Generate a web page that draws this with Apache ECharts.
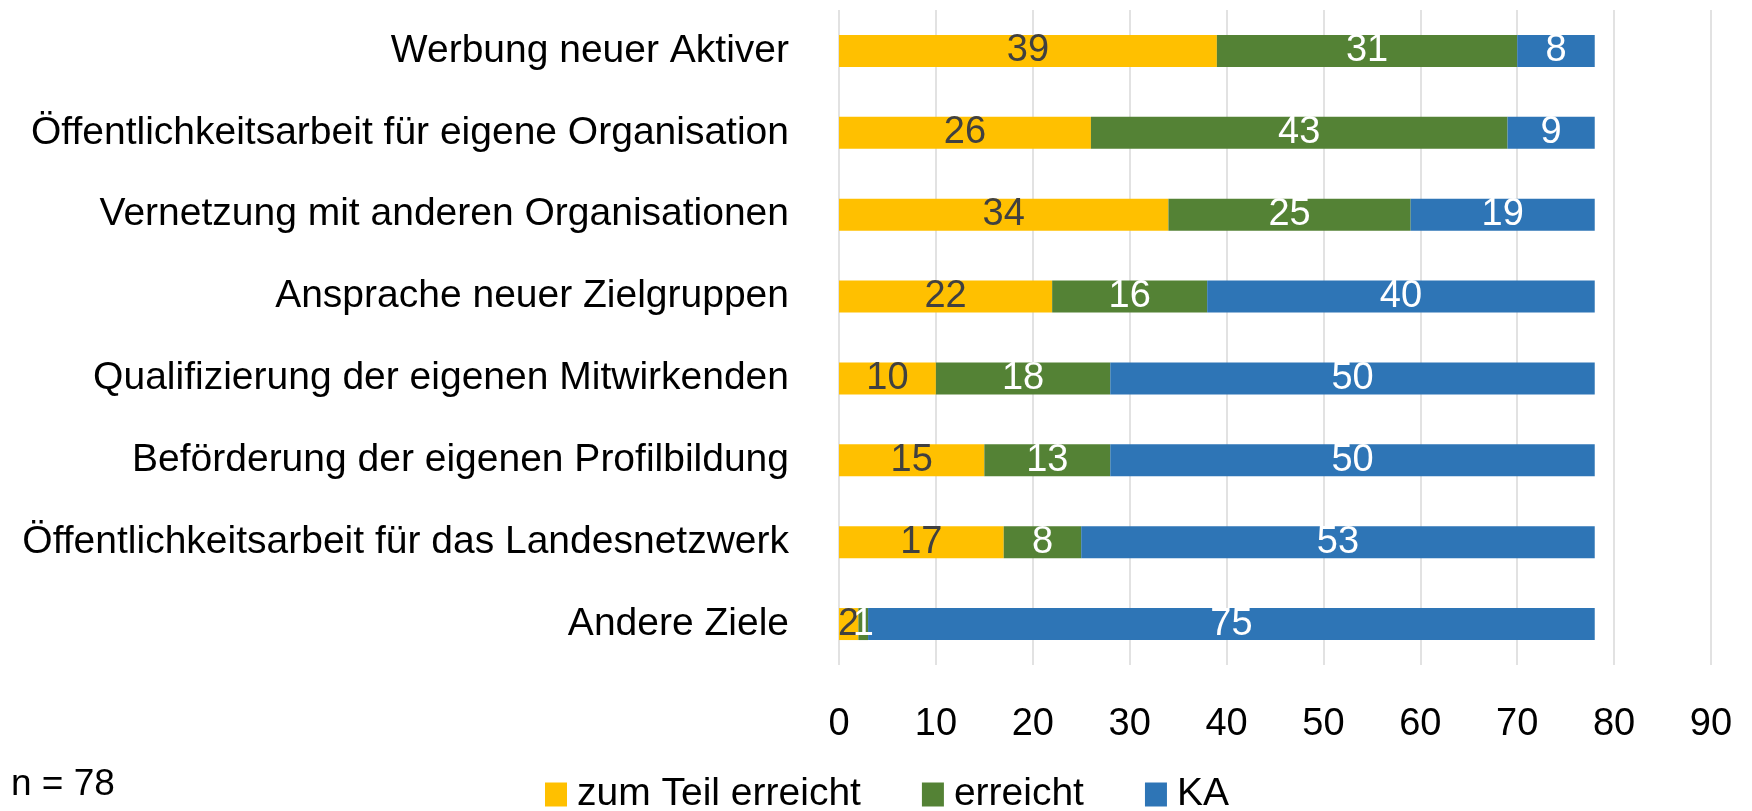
<!DOCTYPE html>
<html>
<head>
<meta charset="utf-8">
<script src="https://cdn.jsdelivr.net/npm/echarts@6/dist/echarts.min.js"></script>
<style>
html,body{margin:0;padding:0;background:#fff;}
#c{width:1752px;height:811px;}
</style>
</head>
<body>
<div id="c"></div>
<script>
const categories = [
  'Werbung neuer Aktiver',
  'Öffentlichkeitsarbeit für eigene Organisation',
  'Vernetzung mit anderen Organisationen',
  'Ansprache neuer Zielgruppen',
  'Qualifizierung der eigenen Mitwirkenden',
  'Beförderung der eigenen Profilbildung',
  'Öffentlichkeitsarbeit für das Landesnetzwerk',
  'Andere Ziele'
];
const seriesNames = ['zum Teil erreicht', 'erreicht', 'KA'];
const zumTeilErreicht = [39, 26, 34, 22, 10, 15, 17, 2];
const erreicht = [31, 43, 25, 16, 18, 13, 8, 1];
const ka = [8, 9, 19, 40, 50, 50, 53, 75];
const xTicks = [0, 10, 20, 30, 40, 50, 60, 70, 80, 90];
const noteText = 'n = 78';

const FONT = "'Liberation Sans', Arial, sans-serif";
const colors = ['#FFC000', '#548235', '#2E75B6'];
const labelColors = ['#404040', '#ffffff', '#ffffff'];
const values = [zumTeilErreicht, erreicht, ka];

const chart = echarts.init(document.getElementById('c'));
chart.setOption({
  animation: false,
  textStyle: { fontFamily: FONT },
  grid: { left: 839, right: 41, top: 10, bottom: 146, containLabel: false },
  xAxis: {
    type: 'value',
    min: xTicks[0],
    max: xTicks[xTicks.length - 1],
    interval: xTicks[1] - xTicks[0],
    axisLine: { show: false },
    axisTick: { show: false },
    splitLine: { show: true, lineStyle: { color: '#D9D9D9', width: 1.5 } },
    axisLabel: { fontSize: 38, color: '#000', margin: 41, fontFamily: FONT }
  },
  yAxis: {
    type: 'category',
    inverse: true,
    data: categories,
    axisLine: { show: false },
    axisTick: { show: false },
    axisLabel: { fontSize: 39, color: '#000', margin: 50, fontFamily: FONT }
  },
  legend: {
    data: seriesNames,
    left: 540,
    top: 770,
    icon: 'rect',
    itemWidth: 22,
    itemHeight: 24,
    itemGap: 61,
    textStyle: { fontSize: 39, color: '#000', fontFamily: FONT, padding: [0, 0, 0, 5] }
  },
  graphic: [{
    type: 'text',
    left: 11,
    top: 766,
    style: { text: noteText, fontSize: 37, fill: '#000', fontFamily: FONT }
  }],
  series: seriesNames.map((name, i) => ({
    name: name,
    type: 'bar',
    stack: 'total',
    barWidth: 32,
    data: values[i],
    itemStyle: { color: colors[i] },
    label: {
      show: true,
      position: 'inside',
      fontSize: 38,
      color: labelColors[i],
      fontFamily: FONT,
      formatter: '{c}'
    }
  }))
});
</script>
</body>
</html>
